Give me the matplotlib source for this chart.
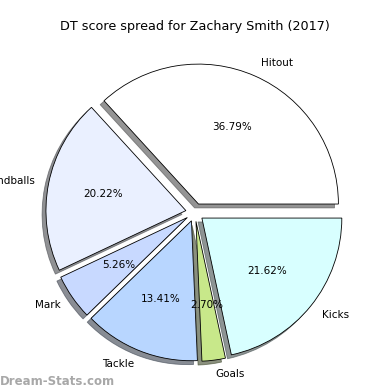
import matplotlib
matplotlib.use("Agg")
import matplotlib.pyplot as plt

# DT score breakdown
categories = ["Hitout", "Handballs", "Mark", "Tackle", "Goals", "Kicks"]
shares = [36.79, 20.22, 5.26, 13.41, 2.70, 21.62]
colors = ["#ffffff", "#eaf0ff", "#c8d9ff", "#b8d6ff", "#c8e88a", "#d8ffff"]

fig = plt.figure(figsize=(3.9, 3.9), dpi=100)
ax = fig.add_axes([0.051, 0.007, 0.897, 0.897])

wedges, texts, autotexts = ax.pie(
    shares,
    labels=categories,
    colors=colors,
    explode=[0.065] * len(shares),
    autopct="%.2f%%",
    startangle=0,
    shadow={"ox": -0.02, "oy": -0.02, "shade": 0.7, "alpha": 0.6},
    wedgeprops={"edgecolor": "black", "linewidth": 0.6},
    textprops={"fontsize": 7.5},
)
ax.set_title("DT score spread for Zachary Smith (2017)", fontsize=9.2, pad=5)

fig.text(0.0, 0.006, "Dream-Stats.com", color="#a8a8a8", fontsize=8.5,
         fontweight="semibold", ha="left", va="bottom")

fig.savefig("out.png", dpi=100)
